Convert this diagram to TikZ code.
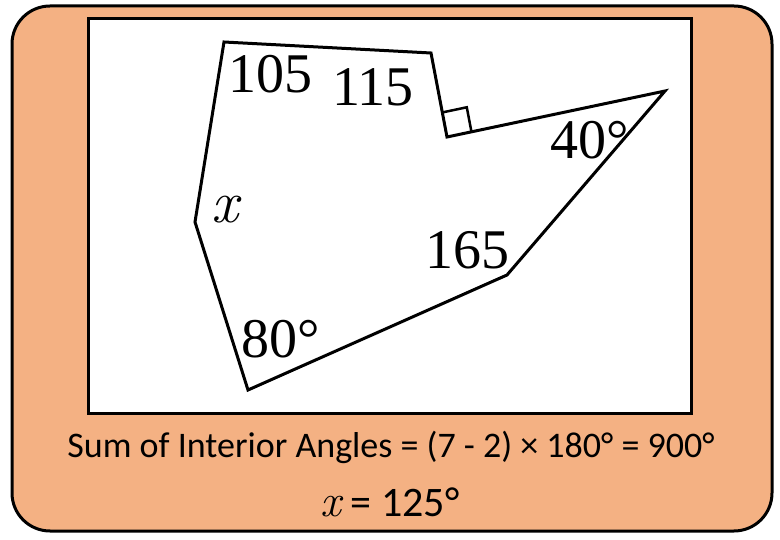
\documentclass[tikz,border=0pt]{standalone}
\usepackage{fontspec}
\newfontfamily\calibri{Carlito}
\newfontfamily\timesish{Liberation Serif}
\usetikzlibrary{calc}
\definecolor{cardorange}{HTML}{F4B183}

\tikzset{
  anglelabel/.style={font=\timesish\fontsize{56}{60}\selectfont, inner sep=0pt},
  unknownlabel/.style={font=\rmfamily\itshape\fontsize{60}{64}\selectfont, inner sep=0pt},
  sumtext/.style={font=\calibri\fontsize{36}{40}\selectfont, inner sep=0pt},
  answertext/.style={font=\calibri\fontsize{42}{46}\selectfont, inner sep=0pt}
}

\begin{document}
\begin{tikzpicture}[x=1pt, y=-1pt, line width=3pt]
		\useasboundingbox (0,0) rectangle (780,540);
		\draw[fill=cardorange, rounded corners=38pt] (12,6) rectangle (772,531);
		\draw[fill=white] (88,19) rectangle (691,413);
		% heptagon corners
		\coordinate (A) at (224,42);
		\coordinate (B) at (431,53);
		\coordinate (C) at (447,137);
		\coordinate (D) at (665,91);
		\coordinate (E) at (507,275);
		\coordinate (F) at (248,390);
		\coordinate (G) at (195,222);
		\draw (A) -- (B) -- (C) -- (D) -- (E) -- (F) -- (G) -- cycle;
		% right angle mark at C
		\coordinate (CB) at ($(C)!25pt!(B)$);
		\coordinate (CD) at ($(C)!25pt!(D)$);
		\coordinate (CX) at ($(CB)+(CD)-(C)$);
		\draw[line width=2.5pt] (CB) -- (CX) -- (CD);
		% angles
		\node[anglelabel] (angA) at (270,74) {105};
		\node[anglelabel] (angB) at (373,87) {115};
		\node[anglelabel] (angD) at (590,140) {40°};
		\node[anglelabel] (angE) at (467,250) {165};
		\node[anglelabel] (angF) at (281,339) {80°};
		\node[unknownlabel] (angG) at (225,210) {x};
		% working
		\node[sumtext] (sum) at (391,447) {Sum of Interior Angles = (7 - 2) × 180° = 900°};
		\node[answertext] (answer) at (390,502) {{\rmfamily\itshape\fontsize{46}{50}\selectfont x} = 125°};
	\end{tikzpicture}
\end{document}
